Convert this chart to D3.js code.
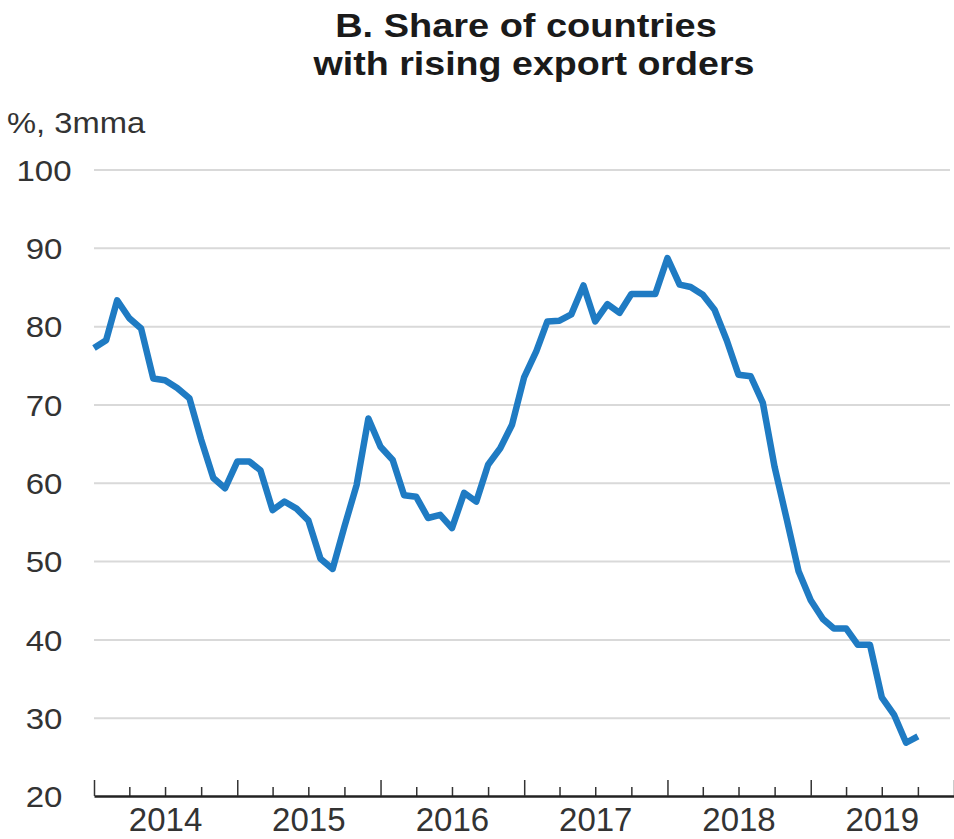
<!DOCTYPE html>
<html>
<head>
<meta charset="utf-8">
<script src="https://cdn.jsdelivr.net/npm/d3@7"></script>
<style>
  html, body { margin: 0; padding: 0; background: #ffffff; }
  svg { display: block; }
  text { font-family: "Liberation Sans", Arial, sans-serif; }
</style>
</head>
<body>
<svg id="chart" width="954" height="839"></svg>
<script>
// ---- Data ----
const titleLines = ["B. Share of countries", "with rising export orders"];
const unitLabel = "%, 3mma";

const months = [
  "2014-01","2014-02","2014-03","2014-04","2014-05","2014-06","2014-07","2014-08","2014-09","2014-10","2014-11","2014-12",
  "2015-01","2015-02","2015-03","2015-04","2015-05","2015-06","2015-07","2015-08","2015-09","2015-10","2015-11","2015-12",
  "2016-01","2016-02","2016-03","2016-04","2016-05","2016-06","2016-07","2016-08","2016-09","2016-10","2016-11","2016-12",
  "2017-01","2017-02","2017-03","2017-04","2017-05","2017-06","2017-07","2017-08","2017-09","2017-10","2017-11","2017-12",
  "2018-01","2018-02","2018-03","2018-04","2018-05","2018-06","2018-07","2018-08","2018-09","2018-10","2018-11","2018-12",
  "2019-01","2019-02","2019-03","2019-04","2019-05","2019-06","2019-07","2019-08","2019-09","2019-10"
];
const shareValues = [
  77.2, 78.2, 83.3, 81.0, 79.7, 73.3, 73.1, 72.1, 70.8, 65.5, 60.6, 59.3,
  62.7, 62.7, 61.6, 56.5, 57.6, 56.7, 55.2, 50.3, 49.0, 54.4, 59.7, 68.2,
  64.6, 62.9, 58.4, 58.2, 55.5, 55.9, 54.2, 58.7, 57.6, 62.3, 64.4, 67.4,
  73.5, 76.8, 80.6, 80.7, 81.5, 85.2, 80.6, 82.8, 81.7, 84.1, 84.1, 84.1,
  88.7, 85.3, 85.0, 84.0, 82.1, 78.2, 73.8, 73.6, 70.2, 62.0, 55.3, 48.7,
  45.0, 42.6, 41.4, 41.4, 39.3, 39.3, 32.6, 30.4, 26.8, 27.6
];
const yTicks = [20, 30, 40, 50, 60, 70, 80, 90, 100];
const yearLabels = ["2014", "2015", "2016", "2017", "2018", "2019"];
const xDomain = ["2014-01-01", "2020-01-01"];

// ---- Layout ----
const svg = d3.select("#chart");
const W = 954, H = 839;
const mLeft = 94, mRight = 954, mTop = 169.5, mBottom = 796;

svg.append("rect").attr("width", W).attr("height", H).attr("fill", "#ffffff");

const parseMonth = d3.timeParse("%Y-%m");
const parseDay = d3.timeParse("%Y-%m-%d");
const data = months.map((m, i) => ({ date: parseMonth(m), value: shareValues[i] }));

const x = d3.scaleTime().domain(xDomain.map(parseDay)).range([mLeft, mRight]);
const y = d3.scaleLinear().domain([20, 100]).range([mBottom, mTop]);

function stretch(sel, k) {
  sel.each(function () {
    const w = this.getComputedTextLength();
    d3.select(this).attr("textLength", w * k).attr("lengthAdjust", "spacingAndGlyphs");
  });
}

// ---- Title ----
const title = svg.append("g").attr("class", "title");
title.append("text").attr("x", 526).attr("y", 37).attr("text-anchor", "middle")
  .attr("font-size", 33).attr("font-weight", "bold").attr("fill", "#1a1a1a")
  .text(titleLines[0]).call(stretch, 1.15);
title.append("text").attr("x", 534).attr("y", 75).attr("text-anchor", "middle")
  .attr("font-size", 33).attr("font-weight", "bold").attr("fill", "#1a1a1a")
  .text(titleLines[1]).call(stretch, 1.14);

// ---- Unit label ----
svg.append("text").attr("x", 7).attr("y", 133).attr("font-size", 30).attr("fill", "#333")
  .text(unitLabel).call(stretch, 1.09);

// ---- Y axis with gridlines ----
const yAxisG = svg.append("g").attr("transform", `translate(${mLeft},0)`)
  .call(d3.axisLeft(y).tickValues(yTicks).tickSize(-(W - 4 - mLeft)).tickFormat(d3.format("d")));
yAxisG.select(".domain").remove();
yAxisG.selectAll(".tick line")
  .attr("stroke", d => d === 20 ? "none" : "#d9d9d9").attr("stroke-width", 2);
yAxisG.selectAll(".tick text")
  .attr("x", -50).attr("text-anchor", "middle").attr("dy", "0.36em")
  .attr("font-size", 30).attr("font-family", "Liberation Sans, Arial, sans-serif").attr("fill", "#333")
  .call(stretch, 1.1);

// ---- Line ----
const line = d3.line().x(d => x(d.date)).y(d => y(d.value));
svg.append("path").datum(data)
  .attr("fill", "none").attr("stroke", "#1f7bc3").attr("stroke-width", 6.5)
  .attr("stroke-linejoin", "round").attr("stroke-linecap", "butt")
  .attr("d", line);

// ---- X axis ----
const yearStarts = d3.timeYear.range(parseDay("2014-01-01"), parseDay("2020-01-02"));
const quarterStarts = d3.timeMonth.every(3).range(parseDay("2014-01-01"), parseDay("2020-01-01"))
  .filter(d => d.getMonth() !== 0);

const xMinor = svg.append("g").attr("transform", `translate(0,${mBottom})`)
  .call(d3.axisBottom(x).tickValues(quarterStarts).tickSizeInner(-9).tickSizeOuter(0).tickFormat(""));
xMinor.select(".domain").remove();
xMinor.selectAll(".tick line").attr("stroke", "#333").attr("stroke-width", 1.5);

const xMajor = svg.append("g").attr("transform", `translate(0,${mBottom})`)
  .call(d3.axisBottom(x).tickValues(yearStarts).tickSizeInner(-16).tickSizeOuter(0).tickFormat(""));
xMajor.select(".domain").attr("stroke", "#222").attr("stroke-width", 2.5);
xMajor.selectAll(".tick line").attr("stroke", "#333").attr("stroke-width", 1.5);

const midYears = yearLabels.map(yr => parseDay(yr + "-07-01"));
const xLabels = svg.append("g").attr("transform", `translate(0,${mBottom})`)
  .call(d3.axisBottom(x).tickValues(midYears).tickSize(0).tickPadding(0).tickFormat(d3.timeFormat("%Y")));
xLabels.select(".domain").remove();
xLabels.selectAll(".tick text")
  .attr("y", 35).attr("dy", 0)
  .attr("font-size", 33).attr("font-family", "Liberation Sans, Arial, sans-serif").attr("fill", "#333");
</script>
</body>
</html>
